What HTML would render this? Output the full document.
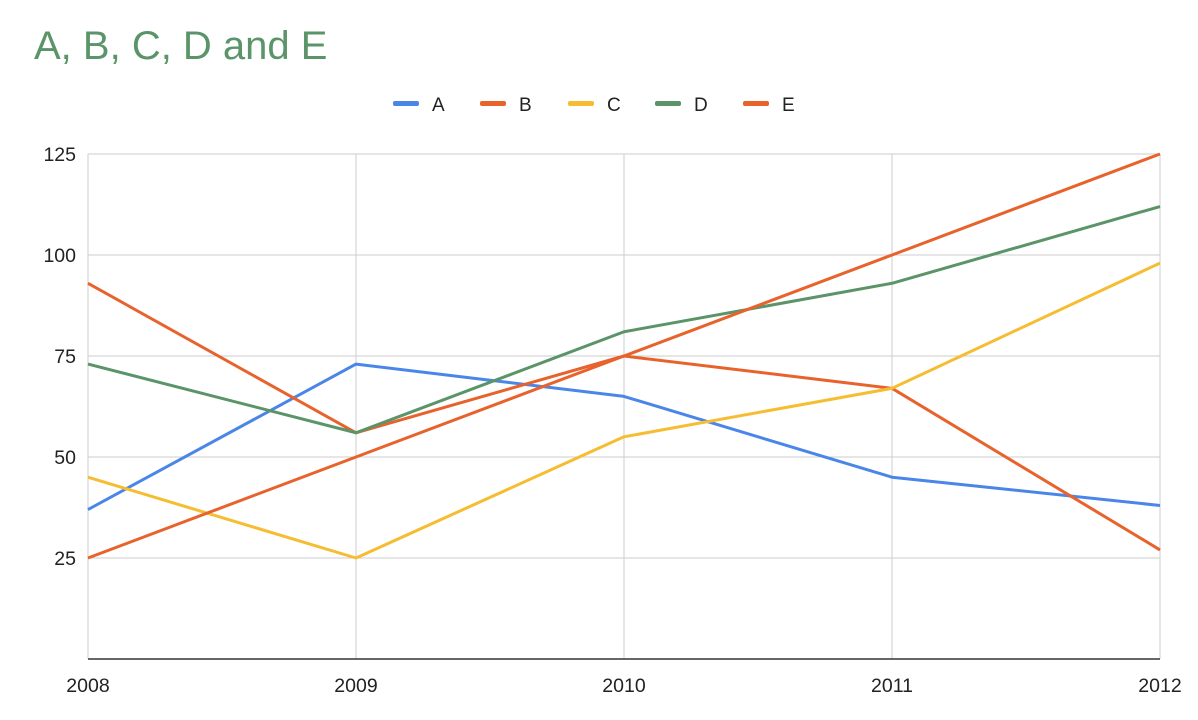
<!DOCTYPE html>
<html><head><meta charset="utf-8"><style>
body{margin:0;background:#fff;font-family:"Liberation Sans",Arial,sans-serif}
svg{display:block}
</style></head><body>
<svg id="chart" width="1198" height="720">
<text x="34" y="59" font-size="40" fill="#5a9468">A, B, C, D and E</text>
<g id="legend"></g>
<g id="grid"></g><g id="lines"></g><g id="labels"></g>
</svg>
<script>
const categories=["2008","2009","2010","2011","2012"];
const seriesNames=["A","B","C","D","E"];
const seriesA=[37,73,65,45,38];
const seriesB=[93,56,75,67,27];
const seriesC=[45,25,55,67,98];
const seriesD=[73,56,81,93,112];
const seriesE=[25,50,75,100,125];
const yTicks=[25,50,75,100,125];
const colors=["#4a86e8","#e8622c","#f6bd33","#5a9468","#e8622c"];
const all=[seriesA,seriesB,seriesC,seriesD,seriesE];
const NS="http://www.w3.org/2000/svg";
const x0=88,x1=1160,yBase=659,pxPer=4.04;
const xs=i=>x0+(x1-x0)*i/(categories.length-1);
const ys=v=>yBase-v*pxPer;
function mk(t,a,p){const e=document.createElementNS(NS,t);for(const k in a)e.setAttribute(k,a[k]);p.appendChild(e);return e;}
const grid=document.getElementById('grid'),lines=document.getElementById('lines'),labels=document.getElementById('labels'),legend=document.getElementById('legend');
yTicks.forEach(v=>{
 const l=mk('line',{x1:x0,x2:x1,y1:ys(v),y2:ys(v),stroke:'#cccccc','stroke-width':1},grid);
 
 
 const t=mk('text',{x:76,y:ys(v)+7,'text-anchor':'end','font-size':19.5,fill:'#222'},labels);
 t.textContent=v;
 
 
});
categories.forEach((c,i)=>{
 const l=mk('line',{x1:xs(i),x2:xs(i),y1:ys(125),y2:yBase,stroke:'#cccccc','stroke-width':1},grid);
 
 
 const t=mk('text',{x:xs(i),y:692,'text-anchor':'middle','font-size':19.5,fill:'#222'},labels);
 t.textContent=c;
 
 
});
const ax=mk('line',{x1:x0,x2:x1,y1:yBase,y2:yBase,stroke:'#333','stroke-width':1.5},grid);


all.forEach((s,k)=>{
 const p=mk('polyline',{points:s.map((v,i)=>xs(i)+','+ys(v)).join(' '),fill:'none',stroke:colors[k],'stroke-width':3,'stroke-linejoin':'round'},lines);
 
 
});
const legX=[393,480,568,655,743];
seriesNames.forEach((n,k)=>{
 const r=mk('rect',{x:legX[k],y:101,width:26,height:5,rx:2,fill:colors[k]},legend);
 
 
 const t=mk('text',{x:legX[k]+39,y:111,'font-size':19,fill:'#222'},legend);
 t.textContent=n;
 
 
});
</script>
</body></html>
